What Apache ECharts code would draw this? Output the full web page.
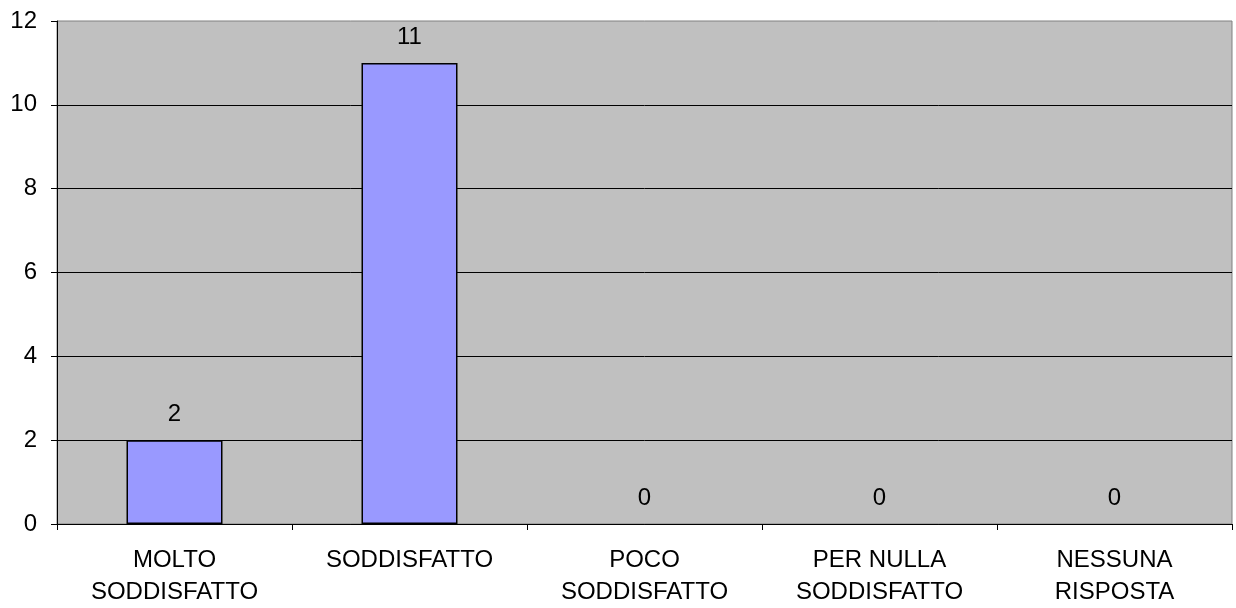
<!DOCTYPE html>
<html>
<head>
<meta charset="utf-8">
<script src="https://cdn.jsdelivr.net/npm/echarts@6/dist/echarts.min.js"></script>
<style>html,body{margin:0;padding:0;background:#fff}#c{width:1236px;height:608px}</style>
</head>
<body>
<div id="c"></div>
<script>
var categories = ["MOLTO\nSODDISFATTO", "SODDISFATTO", "POCO\nSODDISFATTO", "PER NULLA\nSODDISFATTO", "NESSUNA\nRISPOSTA"];
var values = [2, 11, 0, 0, 0];

var chart = echarts.init(document.getElementById('c'), null, {renderer: 'canvas'});
var font = 'Liberation Sans, Arial, sans-serif';
var barData = values.map(function (v) {
  return {value: v, itemStyle: {borderWidth: v === 0 ? 0 : 1.5}};
});
chart.setOption({
  animation: false,
  grid: {left: 57, right: 4, top: 21, bottom: 84, outerBoundsMode: 'none', containLabel: false, show: true, backgroundColor: '#c0c0c0', borderColor: '#808080', borderWidth: 1},
  xAxis: {
    type: 'category', data: categories,
    axisLine: {lineStyle: {color: '#000', width: 1}},
    axisTick: {show: true, length: 6, alignWithLabel: false, lineStyle: {color: '#000'}},
    axisLabel: {color: '#000', fontFamily: font, fontSize: 24, lineHeight: 32, margin: 20, interval: 0}
  },
  yAxis: {
    type: 'value', min: 0, max: 12, interval: 2,
    axisLine: {show: true, lineStyle: {color: '#000', width: 1}},
    axisTick: {show: true, length: 6, lineStyle: {color: '#000'}},
    axisLabel: {color: '#000', fontFamily: font, fontSize: 24, margin: 20},
    splitLine: {show: true, showMaxLine: false, lineStyle: {color: '#000', width: 1}}
  },
  series: [{
    type: 'bar', data: barData, barWidth: 96,
    itemStyle: {color: '#9999ff', borderColor: '#000', borderWidth: 1.5},
    label: {show: true, position: 'top', distance: 14, color: '#000', fontFamily: font, fontSize: 24}
  }]
});
</script>
</body>
</html>
